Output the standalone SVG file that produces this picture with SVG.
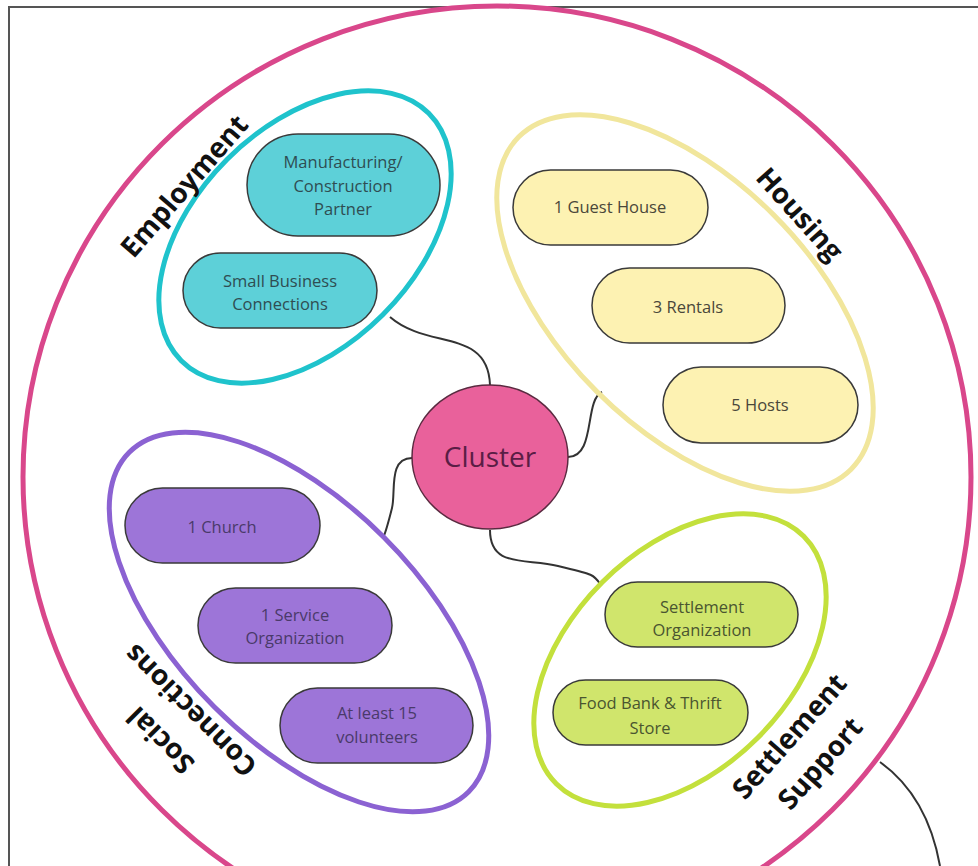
<svg xmlns="http://www.w3.org/2000/svg" width="978" height="866" viewBox="0 0 978 866">
<style>
.pill{stroke:#3a3a3a;stroke-width:1.5}
.pt{font-family:"Open Sans","Liberation Sans",sans-serif;font-size:16.5px;text-anchor:middle}
.lbl{font-family:"Open Sans","Liberation Sans",sans-serif;font-size:28px;font-weight:bold;fill:#111;text-anchor:middle}
.grp{fill:none;stroke-width:5}
.con{fill:none;stroke:#333;stroke-width:2}
</style>
<rect width="978" height="866" fill="#fff"/>
<path d="M9,866 V7 H978" fill="none" stroke="#555" stroke-width="2"/>
<g id="outer"><ellipse cx="497" cy="477" rx="474" ry="471" fill="none" stroke="#d9478b" stroke-width="5"/></g>
<g id="connectors">
<path class="con" d="M390,317 C428,350 488,328 490,385"/>
<path class="con" d="M568,457 C596,457 584,400 602,392"/>
<path class="con" d="M412,458 C388,458 396,492 392,508 S386,532 383,538"/>
<path class="con" d="M490,530 C490,568 525,558 558,566 S594,574 600,584"/>
<path class="con" d="M880,762 C905,780 930,810 940,866"/>
</g>
<g id="employment">
<ellipse class="grp" cx="305" cy="237" rx="175" ry="110" transform="rotate(-45 305 237)" stroke="#1fc3cc"/>
<text class="lbl" transform="translate(184,186) rotate(-49)" y="10">Employment</text>
</g>
<g id="manufacturing"><rect class="pill" x="247" y="134" width="193" height="102" rx="51" fill="#5dd0d8"/>
<text class="pt" fill="#2f4d52"><tspan x="343" y="168">Manufacturing/</tspan><tspan x="343" y="192">Construction</tspan><tspan x="343" y="215">Partner</tspan></text></g>
<g id="small-business"><rect class="pill" x="183" y="253" width="194" height="75" rx="37.5" fill="#5dd0d8"/>
<text class="pt" fill="#2f4d52"><tspan x="280" y="287">Small Business</tspan><tspan x="280" y="310">Connections</tspan></text></g>
<g id="housing">
<ellipse class="grp" cx="685" cy="303" rx="235" ry="125" transform="rotate(45 685 303)" stroke="#f1e69c" stroke-width="4"/>
<text class="lbl" transform="translate(800,214) rotate(48)" y="10">Housing</text>
</g>
<g id="guest-house"><rect class="pill" x="513" y="170" width="195" height="75" rx="37.5" fill="#fdf2b2"/>
<text class="pt" fill="#4a473a" x="610" y="213">1 Guest House</text></g>
<g id="rentals"><rect class="pill" x="592" y="268" width="193" height="75" rx="37.5" fill="#fdf2b2"/>
<text class="pt" fill="#4a473a" x="688" y="313">3 Rentals</text></g>
<g id="hosts"><rect class="pill" x="663" y="367" width="195" height="76" rx="38" fill="#fdf2b2"/>
<text class="pt" fill="#4a473a" x="760" y="411">5 Hosts</text></g>
<g id="social">
<ellipse class="grp" cx="299" cy="622" rx="240" ry="120" transform="rotate(45 299 622)" stroke="#8b62d2"/>
<text class="lbl" transform="translate(176,725) rotate(225)"><tspan x="0" y="-12">Social</tspan><tspan x="0" y="30">Connections</tspan></text>
</g>
<g id="church"><rect class="pill" x="125" y="488" width="195" height="75" rx="37.5" fill="#9d75d8"/>
<text class="pt" fill="#4a3a6a" x="222" y="533">1 Church</text></g>
<g id="service-org"><rect class="pill" x="198" y="588" width="194" height="75" rx="37.5" fill="#9d75d8"/>
<text class="pt" fill="#4a3a6a"><tspan x="295" y="621">1 Service</tspan><tspan x="295" y="644">Organization</tspan></text></g>
<g id="volunteers"><rect class="pill" x="280" y="688" width="193" height="75" rx="37.5" fill="#9d75d8"/>
<text class="pt" fill="#4a3a6a"><tspan x="377" y="719">At least 15</tspan><tspan x="377" y="743">volunteers</tspan></text></g>
<g id="settlement">
<ellipse class="grp" cx="680" cy="660" rx="175" ry="110" transform="rotate(-45 680 660)" stroke="#c3e03c"/>
<text class="lbl" transform="translate(805,750) rotate(-48.5)"><tspan x="0" y="-11">Settlement</tspan><tspan x="0" y="30">Support</tspan></text>
</g>
<g id="settlement-org"><rect class="pill" x="605" y="582" width="193" height="65" rx="32.5" fill="#d0e56c"/>
<text class="pt" fill="#4a5530"><tspan x="702" y="613">Settlement</tspan><tspan x="702" y="636">Organization</tspan></text></g>
<g id="food-bank"><rect class="pill" x="553" y="680" width="195" height="65" rx="32.5" fill="#d0e56c"/>
<text class="pt" fill="#4a5530"><tspan x="650" y="709">Food Bank &amp; Thrift</tspan><tspan x="650" y="734">Store</tspan></text></g>
<g id="cluster"><ellipse cx="490" cy="457" rx="78" ry="72" fill="#e9619b" stroke="#5a2a40" stroke-width="1.5"/>
<text x="490" y="467" font-family="'Open Sans','Liberation Sans',sans-serif" font-size="28" fill="#5a1d45" text-anchor="middle">Cluster</text></g>
</svg>
